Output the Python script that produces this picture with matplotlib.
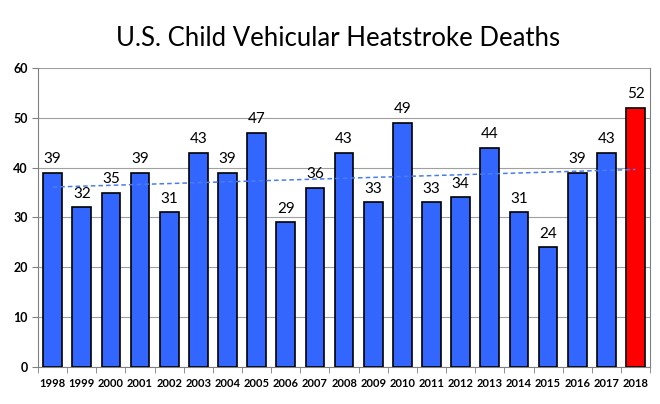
import matplotlib
matplotlib.use("Agg")
import matplotlib.pyplot as plt
import numpy as np
from matplotlib.ticker import FixedLocator

years = [str(y) for y in range(1998, 2019)]
deaths = [39, 32, 35, 39, 31, 43, 39, 47, 29, 36, 43, 33, 49, 33, 34, 44, 31, 24, 39, 43, 52]
colors = ["#3366ff"] * 20 + ["#ff0000"]

plt.rcParams['font.family'] = ['Lato', 'DejaVu Sans']

fig = plt.figure(figsize=(6.6, 4.04), dpi=100)
ax = fig.add_axes([0.0576, 0.0916, 0.9274, 0.7404])

x = np.arange(len(years))
ax.bar(x, deaths, width=0.64, color=colors, edgecolor="black", linewidth=1.2, zorder=3)
for xi, v in zip(x, deaths):
    ax.text(xi, v + 1.3, str(v), ha="center", va="bottom", fontsize=11, color="black", zorder=4)

coef = np.polyfit(x, deaths, 1)
ax.plot(x, np.polyval(coef, x), linestyle=(0, (3, 2)), color="#4a7cf0", linewidth=1.1, zorder=5)

ax.set_xlim(-0.5, len(years) - 0.5)
ax.set_ylim(0, 60)
ax.set_yticks(range(0, 61, 10))
ax.set_xticks(x)
ax.set_xticklabels(years, fontsize=8, fontweight="bold")
ax.tick_params(axis="x", which="major", length=0, pad=8)
ax.xaxis.set_minor_locator(FixedLocator(np.arange(-0.5, len(years), 1.0)))
ax.tick_params(axis="x", which="minor", length=4, color="#808080")
for lab in ax.get_yticklabels():
    lab.set_fontweight("bold")
    lab.set_fontsize(9)
ax.tick_params(axis="y", length=4, color="#808080")
ax.grid(axis="y", color="#a0a0a0", linewidth=0.8, zorder=0)
for s in ["left", "right", "bottom"]:
    ax.spines[s].set_color("#808080")
ax.spines["top"].set_visible(False)

fig.text(0.512, 0.905, "U.S. Child Vehicular Heatstroke Deaths", ha="center", va="center", fontsize=18.5)

fig.savefig("out.png", dpi=100)
